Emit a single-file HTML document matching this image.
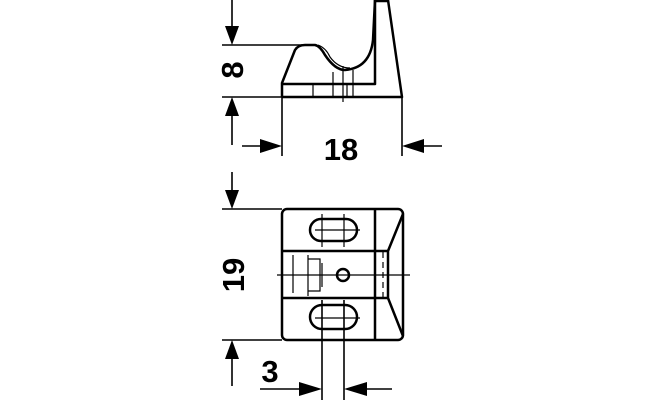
<!DOCTYPE html>
<html><head><style>body{margin:0;background:#fff}svg{display:block}</style></head><body>
<svg width="660" height="400" viewBox="0 0 660 400" xmlns="http://www.w3.org/2000/svg" font-family="Liberation Sans, sans-serif" font-weight="bold">
<g stroke="#000" fill="none" stroke-width="1.6">
<line x1="232" y1="0" x2="232" y2="30"/>
<line x1="222" y1="45" x2="305" y2="45"/>
<line x1="222" y1="97" x2="285" y2="97"/>
<line x1="232" y1="112" x2="232" y2="145"/>
<line x1="282" y1="97" x2="282" y2="156"/>
<line x1="402" y1="97" x2="402" y2="156"/>
<line x1="242" y1="146" x2="265" y2="146"/>
<line x1="420" y1="146" x2="442" y2="146"/>
</g>
<g fill="#000">
<polygon points="225,26 239,26 232,45"/>
<polygon points="225,116 239,116 232,97"/>
<polygon points="260,139 260,153 282,146"/>
<polygon points="424,139 424,153 402,146"/>
</g>
<g stroke="#000" fill="none" stroke-width="2.5" stroke-linejoin="round">
<path d="M282,97 L282,83 L295,50 Q298,45 305,45 L315,45 Q320,46 325,55 Q335,70 345,70 Q370,68 373,40 L375,0"/>
<path d="M375,0 L375,84 L282,84"/>
<path d="M282,97 L402,97 L388,0"/>
<line x1="375" y1="1" x2="388" y2="1"/>
</g>
<g stroke="#000" fill="none" stroke-width="1.2">
<path d="M318,45 Q326,48 330,57 Q338,68 350,68"/>
<line x1="313" y1="84" x2="313" y2="97"/><line x1="333" y1="72" x2="333" y2="97"/>
<line x1="343" y1="66" x2="343" y2="102"/><line x1="347" y1="84" x2="347" y2="97"/><line x1="353" y1="70" x2="353" y2="97"/>
</g>
<text x="341" y="160" font-size="31" text-anchor="middle">18</text>
<text transform="translate(243,70) rotate(-90)" font-size="31" text-anchor="middle">8</text>
<g stroke="#000" fill="none" stroke-width="1.6">
<line x1="232" y1="172" x2="232" y2="192"/>
<line x1="222" y1="209" x2="282" y2="209"/>
<line x1="222" y1="340" x2="282" y2="340"/>
<line x1="232" y1="357" x2="232" y2="386"/>
<line x1="322" y1="300" x2="322" y2="400"/>
<line x1="344" y1="300" x2="344" y2="400"/>
<line x1="260" y1="389" x2="302" y2="389"/>
<line x1="364" y1="389" x2="392" y2="389"/>
<line x1="277" y1="275" x2="410" y2="275" stroke-width="1.2"/>
<line x1="322" y1="214" x2="322" y2="247" stroke-width="1.2"/>
<line x1="344" y1="214" x2="344" y2="247" stroke-width="1.2"/>
<line x1="315" y1="230" x2="360" y2="230" stroke-width="1.2"/>
<line x1="315" y1="318" x2="360" y2="318" stroke-width="1.2"/>
<line x1="293" y1="255" x2="293" y2="293" stroke-width="1.2"/>
<line x1="308" y1="255" x2="308" y2="296" stroke-width="1.2"/>
<path d="M308,259 L320,259 L320,291 L308,291" stroke-width="1.2"/>
<line x1="322" y1="263" x2="322" y2="287" stroke-width="1.2"/>
<line x1="383" y1="252" x2="383" y2="297" stroke-width="1.2" stroke-dasharray="6,4"/>
</g>
<g fill="#000">
<polygon points="225,190 239,190 232,209"/>
<polygon points="225,359 239,359 232,340"/>
<polygon points="299,382 299,396 322,389"/>
<polygon points="367,382 367,396 344,389"/>
</g>
<g stroke="#000" fill="none" stroke-width="2.5" stroke-linejoin="round">
<rect x="282" y="209" width="121" height="131" rx="5"/>
<line x1="282" y1="251" x2="388" y2="251"/>
<line x1="282" y1="298" x2="388" y2="298"/>
<line x1="375" y1="209" x2="375" y2="340"/>
<path d="M403,214 L388,251 L388,298 L403,336"/>
<rect x="310" y="219" width="47" height="22" rx="11"/>
<rect x="310" y="305" width="47" height="24" rx="12"/>
<circle cx="343" cy="275" r="6"/>
</g>
<text transform="translate(244,275) rotate(-90)" font-size="31" text-anchor="middle">19</text>
<text x="270" y="382" font-size="31" text-anchor="middle">3</text>
</svg>
</body></html>
